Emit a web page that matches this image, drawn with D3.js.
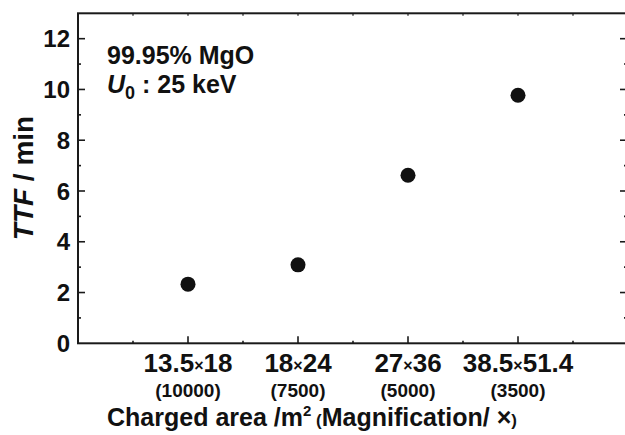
<!DOCTYPE html>
<html>
<head>
<meta charset="utf-8">
<script src="https://cdn.jsdelivr.net/npm/d3@7"></script>
<style>
  body { margin: 0; background: #fff; }
  text { font-family: "Liberation Sans", Arial, Helvetica, sans-serif; font-weight: bold; fill: #111; }
</style>
</head>
<body>
<div id="chart"></div>
<script>
// chart data
const areas = [['13.5', '18'], ['18', '24'], ['27', '36'], ['38.5', '51.4']];
const magnifications = ['(10000)', '(7500)', '(5000)', '(3500)'];
const ttf = [2.33, 3.09, 6.62, 9.77];
const yTicks = [0, 2, 4, 6, 8, 10, 12];

const width = 625;
const height = 435;

const svg = d3.select('#chart').append('svg')
  .attr('width', width)
  .attr('height', height);

// x is category slot (1..4), frame runs 0..5
const x = d3.scaleLinear().domain([0, 5]).range([78, 628]);
const y = d3.scaleLinear().domain([0, 13]).range([343.3, 13.3]);

const ink = '#1a1a1a';

// frame
svg.append('rect')
  .attr('x', x(0)).attr('y', y(13))
  .attr('width', x(5) - x(0)).attr('height', y(0) - y(13))
  .attr('fill', 'none')
  .attr('stroke', ink)
  .attr('stroke-width', 2);

const half = d3.range(0, 5.01, 0.5);
const yAll = d3.range(0, 13.01, 1);

// bottom ticks (inward)
svg.append('g')
  .selectAll('line')
  .data(half.filter(d => d > 0 && d < 5))
  .enter().append('line')
  .attr('x1', d => x(d)).attr('x2', d => x(d))
  .attr('y1', y(0))
  .attr('y2', d => Number.isInteger(d) ? y(0) - 7 : y(0) - 2.5)
  .attr('stroke', ink).attr('stroke-width', 1.6);

// top ticks
svg.append('g')
  .selectAll('line')
  .data(half.filter(d => d > 0 && d < 5))
  .enter().append('line')
  .attr('x1', d => x(d)).attr('x2', d => x(d))
  .attr('y1', y(13)).attr('y2', y(13) + 2.5)
  .attr('stroke', ink).attr('stroke-width', 1.2);

// left ticks
svg.append('g')
  .selectAll('line')
  .data(yAll.filter(d => d > 0 && d < 13))
  .enter().append('line')
  .attr('y1', d => y(d)).attr('y2', d => y(d))
  .attr('x1', x(0))
  .attr('x2', d => d % 2 === 0 ? x(0) + 7 : x(0) + 3)
  .attr('stroke', ink).attr('stroke-width', 1.6);

// right ticks
svg.append('g')
  .selectAll('line')
  .data(yAll.filter(d => d > 0 && d < 13))
  .enter().append('line')
  .attr('y1', d => y(d)).attr('y2', d => y(d))
  .attr('x1', x(5))
  .attr('x2', d => d % 2 === 0 ? x(5) - 8 : x(5) - 4)
  .attr('stroke', ink).attr('stroke-width', 1.6);

// y tick labels
svg.append('g')
  .selectAll('text')
  .data(yTicks)
  .enter().append('text')
  .attr('x', 70)
  .attr('y', d => y(d))
  .attr('dy', '0.36em')
  .attr('text-anchor', 'end')
  .style('font-size', '24px')
  .text(d => d);

// x category labels
const cat = svg.append('g')
  .selectAll('text')
  .data(areas)
  .enter().append('text')
  .attr('x', (d, i) => x(i + 1))
  .attr('y', 372)
  .attr('text-anchor', 'middle')
  .style('font-size', '26px');
cat.append('tspan').text(d => d[0]);
cat.append('tspan').style('font-size', '16px').attr('dy', -1).text('×');
cat.append('tspan').attr('dy', 1).text(d => d[1]);

svg.append('g')
  .selectAll('text')
  .data(magnifications)
  .enter().append('text')
  .attr('x', (d, i) => x(i + 1))
  .attr('y', 397)
  .attr('text-anchor', 'middle')
  .style('font-size', '19px')
  .text(d => d);

// x title
const xt = svg.append('text')
  .attr('x', 312)
  .attr('y', 426)
  .attr('text-anchor', 'middle')
  .style('font-size', '25px');
xt.append('tspan').text('Charged area /m');
xt.append('tspan').attr('dy', -10).style('font-size', '15px').text('2');
xt.append('tspan').attr('dy', 10).style('font-size', '17px').text(' (');
xt.append('tspan').text('Magnification/ ×');
xt.append('tspan').style('font-size', '17px').text(')');

// y title
const yt = svg.append('text')
  .attr('transform', 'translate(33,178) rotate(-90)')
  .attr('text-anchor', 'middle')
  .style('font-size', '28px');
yt.append('tspan').style('font-style', 'italic').text('TTF');
yt.append('tspan').text(' / min');

// annotation
svg.append('text')
  .attr('x', 107).attr('y', 64)
  .style('font-size', '25px')
  .text('99.95% MgO');
const u = svg.append('text')
  .attr('x', 107).attr('y', 93)
  .style('font-size', '25px');
u.append('tspan').style('font-style', 'italic').text('U');
u.append('tspan').attr('dy', 6).style('font-size', '18px').text('0');
u.append('tspan').attr('dy', -6).text(' : 25 keV');

// points
svg.append('g')
  .selectAll('circle')
  .data(ttf)
  .enter().append('circle')
  .attr('cx', (d, i) => x(i + 1))
  .attr('cy', d => y(d))
  .attr('r', 7.5)
  .attr('fill', '#111');
</script>
</body>
</html>
